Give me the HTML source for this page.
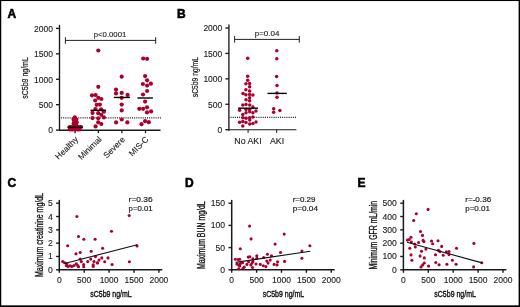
<!DOCTYPE html>
<html><head><meta charset="utf-8"><style>
html,body{margin:0;padding:0;background:#fff;}
body{width:520px;height:307px;overflow:hidden;}
svg{display:block;}
svg text{filter:grayscale(1);}
svg text{font-family:"Liberation Sans", sans-serif;}
</style></head><body>
<svg width="520" height="307" viewBox="0 0 520 307">
<rect x="0" y="0" width="520" height="307" fill="#fff"/>
<text x="7.4" y="17.6" font-size="12" font-weight="bold" fill="#000" stroke="#000" stroke-width="0.55">A</text>
<text x="176.9" y="17.6" font-size="12" font-weight="bold" fill="#000" stroke="#000" stroke-width="0.55">B</text>
<text x="7.6" y="186.6" font-size="12" font-weight="bold" fill="#000" stroke="#000" stroke-width="0.55">C</text>
<text x="184.9" y="186.7" font-size="12" font-weight="bold" fill="#000" stroke="#000" stroke-width="0.55">D</text>
<text x="357.5" y="186.6" font-size="12" font-weight="bold" fill="#000" stroke="#000" stroke-width="0.55">E</text>
<line x1="59.5" y1="25.4" x2="59.5" y2="130.6" stroke="#1a1a1a" stroke-width="1.35" stroke-linecap="round"/>
<line x1="56.0" y1="130.1" x2="59.5" y2="130.1" stroke="#1a1a1a" stroke-width="1.35"/>
<text x="52.9" y="133.4" font-size="8.5" text-anchor="end" fill="#1a1a1a" stroke="#222" stroke-width="0.12">0</text>
<line x1="56.0" y1="104.675" x2="59.5" y2="104.675" stroke="#1a1a1a" stroke-width="1.35"/>
<text x="52.9" y="107.975" font-size="8.5" text-anchor="end" fill="#1a1a1a" stroke="#222" stroke-width="0.12">500</text>
<line x1="56.0" y1="79.25" x2="59.5" y2="79.25" stroke="#1a1a1a" stroke-width="1.35"/>
<text x="52.9" y="82.55" font-size="8.5" text-anchor="end" fill="#1a1a1a" stroke="#222" stroke-width="0.12">1000</text>
<line x1="56.0" y1="53.825" x2="59.5" y2="53.825" stroke="#1a1a1a" stroke-width="1.35"/>
<text x="52.9" y="57.125" font-size="8.5" text-anchor="end" fill="#1a1a1a" stroke="#222" stroke-width="0.12">1500</text>
<line x1="56.0" y1="28.400000000000006" x2="59.5" y2="28.400000000000006" stroke="#1a1a1a" stroke-width="1.35"/>
<text x="52.9" y="31.700000000000006" font-size="8.5" text-anchor="end" fill="#1a1a1a" stroke="#222" stroke-width="0.12">2000</text>
<line x1="59.5" y1="130.2" x2="160.5" y2="130.2" stroke="#1a1a1a" stroke-width="1.5"/>
<line x1="75.1" y1="130.2" x2="75.1" y2="133.2" stroke="#1a1a1a" stroke-width="1.3"/>
<line x1="98.4" y1="130.2" x2="98.4" y2="133.2" stroke="#1a1a1a" stroke-width="1.3"/>
<line x1="121.9" y1="130.2" x2="121.9" y2="133.2" stroke="#1a1a1a" stroke-width="1.3"/>
<line x1="145.5" y1="130.2" x2="145.5" y2="133.2" stroke="#1a1a1a" stroke-width="1.3"/>
<line x1="61" y1="117.9" x2="161.4" y2="117.9" stroke="#222" stroke-width="1.3" stroke-dasharray="1.05 1.1"/>
<line x1="65.4" y1="40.4" x2="155.7" y2="40.4" stroke="#222" stroke-width="1.0"/>
<line x1="65.4" y1="37.2" x2="65.4" y2="43.8" stroke="#222" stroke-width="1.0"/>
<line x1="155.7" y1="37.2" x2="155.7" y2="43.8" stroke="#222" stroke-width="1.0"/>
<text x="110" y="37.0" font-size="7.9" text-anchor="middle" textLength="32.5" lengthAdjust="spacingAndGlyphs" fill="#1a1a1a" stroke="#222" stroke-width="0.12">p&lt;0.0001</text>
<text transform="translate(28.0,98.7) rotate(-90)" font-size="9.5" textLength="41.5" lengthAdjust="spacingAndGlyphs" fill="#1a1a1a" stroke="#111" stroke-width="0.2">sC5b9 ng/mL</text>
<text transform="translate(78.69999999999999,139.9) rotate(-45)" font-size="8.4" text-anchor="end" fill="#1a1a1a" stroke="#222" stroke-width="0.12">Healthy</text>
<text transform="translate(102.0,139.9) rotate(-45)" font-size="8.4" text-anchor="end" fill="#1a1a1a" stroke="#222" stroke-width="0.12">Minimal</text>
<text transform="translate(125.5,139.9) rotate(-45)" font-size="8.4" text-anchor="end" fill="#1a1a1a" stroke="#222" stroke-width="0.12">Severe</text>
<text transform="translate(149.1,139.9) rotate(-45)" font-size="8.4" text-anchor="end" fill="#1a1a1a" stroke="#222" stroke-width="0.12">MIS-C</text>
<g fill="#ab002c">
<circle cx="74.8" cy="117.3" r="2.1"/>
<circle cx="73.6" cy="119.4" r="2.1"/>
<circle cx="76.2" cy="119.6" r="2.1"/>
<circle cx="74.2" cy="121.6" r="2.1"/>
<circle cx="76.7" cy="122.2" r="2.1"/>
<circle cx="73.6" cy="123.8" r="2.1"/>
<circle cx="76.1" cy="124.4" r="2.1"/>
<circle cx="74.8" cy="125.2" r="2.1"/>
<circle cx="69.8" cy="127.0" r="2.1"/>
<circle cx="71.8" cy="127.0" r="2.1"/>
<circle cx="73.8" cy="127.0" r="2.1"/>
<circle cx="75.8" cy="127.0" r="2.1"/>
<circle cx="77.8" cy="127.0" r="2.1"/>
<circle cx="79.8" cy="127.0" r="2.1"/>
<circle cx="81.0" cy="127.0" r="2.1"/>
<circle cx="69.7" cy="129.4" r="2.1"/>
<circle cx="71.7" cy="129.4" r="2.1"/>
<circle cx="73.7" cy="129.4" r="2.1"/>
<circle cx="75.7" cy="129.4" r="2.1"/>
<circle cx="77.7" cy="129.4" r="2.1"/>
<circle cx="79.5" cy="129.4" r="2.1"/>
<circle cx="98.3" cy="50.5" r="2.1"/>
<circle cx="98.3" cy="86.8" r="2.1"/>
<circle cx="92.0" cy="95.3" r="2.1"/>
<circle cx="95.6" cy="95.0" r="2.1"/>
<circle cx="98.3" cy="97.8" r="2.1"/>
<circle cx="101.4" cy="99.0" r="2.1"/>
<circle cx="95.2" cy="100.5" r="2.1"/>
<circle cx="96.7" cy="104.8" r="2.1"/>
<circle cx="99.9" cy="104.6" r="2.1"/>
<circle cx="95.4" cy="109.1" r="2.1"/>
<circle cx="101.1" cy="109.3" r="2.1"/>
<circle cx="92.5" cy="112.9" r="2.1"/>
<circle cx="98.2" cy="113.2" r="2.1"/>
<circle cx="103.9" cy="111.7" r="2.1"/>
<circle cx="101.3" cy="114.8" r="2.1"/>
<circle cx="92.5" cy="118.1" r="2.1"/>
<circle cx="98.2" cy="118.3" r="2.1"/>
<circle cx="103.9" cy="117.4" r="2.1"/>
<circle cx="98.2" cy="122.3" r="2.1"/>
<circle cx="101.3" cy="124" r="2.1"/>
<circle cx="95.6" cy="126.4" r="2.1"/>
<circle cx="121.7" cy="76.7" r="2.1"/>
<circle cx="116.0" cy="89.6" r="2.1"/>
<circle cx="116.0" cy="93.4" r="2.1"/>
<circle cx="121.7" cy="92.9" r="2.1"/>
<circle cx="127.6" cy="94.9" r="2.1"/>
<circle cx="121.7" cy="97.8" r="2.1"/>
<circle cx="121.7" cy="104.6" r="2.1"/>
<circle cx="121.7" cy="110.4" r="2.1"/>
<circle cx="121.7" cy="119.5" r="2.1"/>
<circle cx="116.1" cy="122.4" r="2.1"/>
<circle cx="127.3" cy="122.4" r="2.1"/>
<circle cx="143.2" cy="58.5" r="2.1"/>
<circle cx="147.1" cy="58.8" r="2.1"/>
<circle cx="145.1" cy="76.1" r="2.1"/>
<circle cx="147.1" cy="80.3" r="2.1"/>
<circle cx="142.9" cy="84.0" r="2.1"/>
<circle cx="147.1" cy="85.6" r="2.1"/>
<circle cx="150.9" cy="83.7" r="2.1"/>
<circle cx="147.1" cy="91.0" r="2.1"/>
<circle cx="143.0" cy="94.5" r="2.1"/>
<circle cx="145.1" cy="101.6" r="2.1"/>
<circle cx="139.3" cy="108.8" r="2.1"/>
<circle cx="143.1" cy="108.8" r="2.1"/>
<circle cx="147" cy="107.3" r="2.1"/>
<circle cx="147" cy="112.4" r="2.1"/>
<circle cx="151.1" cy="111.4" r="2.1"/>
<circle cx="141.5" cy="124.2" r="2.1"/>
<circle cx="145.1" cy="121.2" r="2.1"/>
<circle cx="148.8" cy="122.2" r="2.1"/>
</g>
<line x1="67.3" y1="127.2" x2="82.7" y2="127.2" stroke="#000" stroke-width="1.4"/>
<line x1="90.5" y1="110.3" x2="106.0" y2="110.3" stroke="#000" stroke-width="1.4"/>
<line x1="113.9" y1="97.45" x2="130.0" y2="97.45" stroke="#000" stroke-width="1.4"/>
<line x1="137.4" y1="98.0" x2="152.9" y2="98.0" stroke="#000" stroke-width="1.4"/>
<line x1="228.9" y1="25.0" x2="228.9" y2="130.2" stroke="#1a1a1a" stroke-width="1.35" stroke-linecap="round"/>
<line x1="225.4" y1="129.7" x2="228.9" y2="129.7" stroke="#1a1a1a" stroke-width="1.35"/>
<text x="222.3" y="133.0" font-size="8.5" text-anchor="end" fill="#1a1a1a" stroke="#222" stroke-width="0.12">0</text>
<line x1="225.4" y1="104.27499999999999" x2="228.9" y2="104.27499999999999" stroke="#1a1a1a" stroke-width="1.35"/>
<text x="222.3" y="107.57499999999999" font-size="8.5" text-anchor="end" fill="#1a1a1a" stroke="#222" stroke-width="0.12">500</text>
<line x1="225.4" y1="78.85" x2="228.9" y2="78.85" stroke="#1a1a1a" stroke-width="1.35"/>
<text x="222.3" y="82.14999999999999" font-size="8.5" text-anchor="end" fill="#1a1a1a" stroke="#222" stroke-width="0.12">1000</text>
<line x1="225.4" y1="53.425" x2="228.9" y2="53.425" stroke="#1a1a1a" stroke-width="1.35"/>
<text x="222.3" y="56.724999999999994" font-size="8.5" text-anchor="end" fill="#1a1a1a" stroke="#222" stroke-width="0.12">1500</text>
<line x1="225.4" y1="28.0" x2="228.9" y2="28.0" stroke="#1a1a1a" stroke-width="1.35"/>
<text x="222.3" y="31.3" font-size="8.5" text-anchor="end" fill="#1a1a1a" stroke="#222" stroke-width="0.12">2000</text>
<line x1="228.9" y1="129.7" x2="296.4" y2="129.7" stroke="#1a1a1a" stroke-width="1.1"/>
<line x1="248.1" y1="129.7" x2="248.1" y2="132.9" stroke="#1a1a1a" stroke-width="1.0"/>
<line x1="276.7" y1="129.7" x2="276.7" y2="132.9" stroke="#1a1a1a" stroke-width="1.0"/>
<line x1="230.5" y1="117.3" x2="296.6" y2="117.3" stroke="#222" stroke-width="1.3" stroke-dasharray="1.05 1.1"/>
<line x1="234.6" y1="39.4" x2="299.3" y2="39.4" stroke="#222" stroke-width="1.0"/>
<line x1="234.6" y1="36.0" x2="234.6" y2="42.6" stroke="#222" stroke-width="1.0"/>
<line x1="299.3" y1="36.0" x2="299.3" y2="42.6" stroke="#222" stroke-width="1.0"/>
<text x="267.1" y="36.2" font-size="8" text-anchor="middle" textLength="24.8" lengthAdjust="spacingAndGlyphs" fill="#1a1a1a" stroke="#222" stroke-width="0.12">p=0.04</text>
<text transform="translate(198.0,97.2) rotate(-90)" font-size="9.5" textLength="40.2" lengthAdjust="spacingAndGlyphs" fill="#1a1a1a" stroke="#111" stroke-width="0.2">sC5b9 ng/mL</text>
<text x="248.0" y="143.6" font-size="8.8" text-anchor="middle" fill="#1a1a1a" stroke="#222" stroke-width="0.12">No AKI</text>
<text x="277.0" y="143.6" font-size="8.8" text-anchor="middle" fill="#1a1a1a" stroke="#222" stroke-width="0.12">AKI</text>
<g fill="#ab002c">
<circle cx="247.7" cy="58.2" r="1.75"/>
<circle cx="247.7" cy="76.2" r="1.75"/>
<circle cx="247.7" cy="80.2" r="1.75"/>
<circle cx="245.9" cy="83.8" r="1.75"/>
<circle cx="249.6" cy="83.5" r="1.75"/>
<circle cx="249.6" cy="86.8" r="1.75"/>
<circle cx="245.9" cy="89.7" r="1.75"/>
<circle cx="249.6" cy="90.9" r="1.75"/>
<circle cx="243" cy="93.4" r="1.75"/>
<circle cx="245.9" cy="94.8" r="1.75"/>
<circle cx="249.6" cy="94.5" r="1.75"/>
<circle cx="252.9" cy="95.0" r="1.75"/>
<circle cx="249.6" cy="97.7" r="1.75"/>
<circle cx="246" cy="99.8" r="1.75"/>
<circle cx="249.6" cy="100.8" r="1.75"/>
<circle cx="242.8" cy="104.9" r="1.75"/>
<circle cx="246" cy="104.6" r="1.75"/>
<circle cx="249.7" cy="104.9" r="1.75"/>
<circle cx="252.9" cy="107" r="1.75"/>
<circle cx="239.6" cy="110.2" r="1.75"/>
<circle cx="246" cy="109.5" r="1.75"/>
<circle cx="249.7" cy="109.5" r="1.75"/>
<circle cx="256" cy="110.9" r="1.75"/>
<circle cx="246" cy="112.7" r="1.75"/>
<circle cx="249.7" cy="111.7" r="1.75"/>
<circle cx="252.9" cy="112.7" r="1.75"/>
<circle cx="242.8" cy="114.6" r="1.75"/>
<circle cx="242.8" cy="117.8" r="1.75"/>
<circle cx="246" cy="118.3" r="1.75"/>
<circle cx="249.7" cy="117.8" r="1.75"/>
<circle cx="252.9" cy="117.1" r="1.75"/>
<circle cx="249.7" cy="120" r="1.75"/>
<circle cx="239.6" cy="122.2" r="1.75"/>
<circle cx="242.8" cy="121.5" r="1.75"/>
<circle cx="246" cy="122.4" r="1.75"/>
<circle cx="249.7" cy="123.9" r="1.75"/>
<circle cx="252.9" cy="123.6" r="1.75"/>
<circle cx="256" cy="122" r="1.75"/>
<circle cx="242.8" cy="126.1" r="1.75"/>
<circle cx="276.8" cy="50.7" r="1.75"/>
<circle cx="276.8" cy="58.8" r="1.75"/>
<circle cx="276.6" cy="76.4" r="1.75"/>
<circle cx="277" cy="85.6" r="1.75"/>
<circle cx="277" cy="93" r="1.75"/>
<circle cx="277" cy="97.3" r="1.75"/>
<circle cx="273.7" cy="108.7" r="1.75"/>
<circle cx="273.7" cy="112.2" r="1.75"/>
<circle cx="279.9" cy="110.4" r="1.75"/>
</g>
<line x1="238.1" y1="108.2" x2="258.0" y2="108.2" stroke="#000" stroke-width="1.4"/>
<line x1="267.5" y1="93.4" x2="286.8" y2="93.4" stroke="#000" stroke-width="1.4"/>
<line x1="59.3" y1="200.6" x2="59.3" y2="270.3" stroke="#1a1a1a" stroke-width="1.5" stroke-linecap="round"/>
<line x1="56.099999999999994" y1="269.8" x2="59.3" y2="269.8" stroke="#1a1a1a" stroke-width="1.4"/>
<text x="52.699999999999996" y="272.8" font-size="8.6" text-anchor="end" fill="#1a1a1a" stroke="#222" stroke-width="0.12">0</text>
<line x1="56.099999999999994" y1="256.48" x2="59.3" y2="256.48" stroke="#1a1a1a" stroke-width="1.4"/>
<text x="52.699999999999996" y="259.48" font-size="8.6" text-anchor="end" fill="#1a1a1a" stroke="#222" stroke-width="0.12">1</text>
<line x1="56.099999999999994" y1="243.16" x2="59.3" y2="243.16" stroke="#1a1a1a" stroke-width="1.4"/>
<text x="52.699999999999996" y="246.16" font-size="8.6" text-anchor="end" fill="#1a1a1a" stroke="#222" stroke-width="0.12">2</text>
<line x1="56.099999999999994" y1="229.84" x2="59.3" y2="229.84" stroke="#1a1a1a" stroke-width="1.4"/>
<text x="52.699999999999996" y="232.84" font-size="8.6" text-anchor="end" fill="#1a1a1a" stroke="#222" stroke-width="0.12">3</text>
<line x1="56.099999999999994" y1="216.51999999999998" x2="59.3" y2="216.51999999999998" stroke="#1a1a1a" stroke-width="1.4"/>
<text x="52.699999999999996" y="219.51999999999998" font-size="8.6" text-anchor="end" fill="#1a1a1a" stroke="#222" stroke-width="0.12">4</text>
<line x1="56.099999999999994" y1="203.2" x2="59.3" y2="203.2" stroke="#1a1a1a" stroke-width="1.4"/>
<text x="52.699999999999996" y="206.2" font-size="8.6" text-anchor="end" fill="#1a1a1a" stroke="#222" stroke-width="0.12">5</text>
<line x1="59.3" y1="269.8" x2="162.3" y2="269.8" stroke="#1a1a1a" stroke-width="1.5"/>
<line x1="59.3" y1="269.8" x2="59.3" y2="272.8" stroke="#1a1a1a" stroke-width="1.4"/>
<text x="59.3" y="283.0" font-size="8.5" text-anchor="middle" fill="#1a1a1a" stroke="#222" stroke-width="0.12">0</text>
<line x1="84.19999999999999" y1="269.8" x2="84.19999999999999" y2="272.8" stroke="#1a1a1a" stroke-width="1.4"/>
<text x="84.19999999999999" y="283.0" font-size="8.5" text-anchor="middle" fill="#1a1a1a" stroke="#222" stroke-width="0.12">500</text>
<line x1="109.1" y1="269.8" x2="109.1" y2="272.8" stroke="#1a1a1a" stroke-width="1.4"/>
<text x="109.1" y="283.0" font-size="8.5" text-anchor="middle" fill="#1a1a1a" stroke="#222" stroke-width="0.12">1000</text>
<line x1="134.0" y1="269.8" x2="134.0" y2="272.8" stroke="#1a1a1a" stroke-width="1.4"/>
<text x="134.0" y="283.0" font-size="8.5" text-anchor="middle" fill="#1a1a1a" stroke="#222" stroke-width="0.12">1500</text>
<line x1="158.89999999999998" y1="269.8" x2="158.89999999999998" y2="272.8" stroke="#1a1a1a" stroke-width="1.4"/>
<text x="158.89999999999998" y="283.0" font-size="8.5" text-anchor="middle" fill="#1a1a1a" stroke="#222" stroke-width="0.12">2000</text>
<text x="111.0" y="297.2" font-size="9.8" text-anchor="middle" textLength="41.5" lengthAdjust="spacingAndGlyphs" fill="#1a1a1a" stroke="#111" stroke-width="0.42">sC5b9 ng/mL</text>
<text transform="translate(42.6,277.0) rotate(-90)" font-size="10.2" textLength="84.0" lengthAdjust="spacingAndGlyphs" fill="#1a1a1a" stroke="#111" stroke-width="0.35">Maximum creatinine mg/dL</text>
<text x="128.6" y="201.5" font-size="8" textLength="24" lengthAdjust="spacingAndGlyphs" fill="#1a1a1a" stroke="#222" stroke-width="0.2">r=0.36</text>
<text x="128.6" y="210.6" font-size="8" textLength="24" lengthAdjust="spacingAndGlyphs" fill="#1a1a1a" stroke="#222" stroke-width="0.2">p=0.01</text>
<g fill="#ab002c">
<circle cx="76.9" cy="216.5" r="1.55"/>
<circle cx="129.2" cy="215.5" r="1.55"/>
<circle cx="111.5" cy="231.2" r="1.55"/>
<circle cx="78.5" cy="236.5" r="1.55"/>
<circle cx="83.8" cy="239.2" r="1.55"/>
<circle cx="95.1" cy="239.2" r="1.55"/>
<circle cx="67.7" cy="245.8" r="1.55"/>
<circle cx="102.6" cy="248.2" r="1.55"/>
<circle cx="137" cy="245.9" r="1.55"/>
<circle cx="76" cy="253.9" r="1.55"/>
<circle cx="80.2" cy="252.5" r="1.55"/>
<circle cx="91.2" cy="251.3" r="1.55"/>
<circle cx="62.7" cy="261.6" r="1.55"/>
<circle cx="64.6" cy="262.7" r="1.55"/>
<circle cx="80.2" cy="259.1" r="1.55"/>
<circle cx="81.3" cy="261.6" r="1.55"/>
<circle cx="90.7" cy="259.1" r="1.55"/>
<circle cx="87.7" cy="261.6" r="1.55"/>
<circle cx="95.5" cy="256.6" r="1.55"/>
<circle cx="94" cy="261.6" r="1.55"/>
<circle cx="97.3" cy="262.7" r="1.55"/>
<circle cx="66.3" cy="265.5" r="1.55"/>
<circle cx="68" cy="266.6" r="1.55"/>
<circle cx="70" cy="265.7" r="1.55"/>
<circle cx="71.9" cy="266.4" r="1.55"/>
<circle cx="74.1" cy="265.5" r="1.55"/>
<circle cx="76.3" cy="263.8" r="1.55"/>
<circle cx="77.7" cy="265.5" r="1.55"/>
<circle cx="78.5" cy="266.8" r="1.55"/>
<circle cx="83.7" cy="264.6" r="1.55"/>
<circle cx="83.7" cy="266.8" r="1.55"/>
<circle cx="93.2" cy="264.9" r="1.55"/>
<circle cx="93.2" cy="266.4" r="1.55"/>
<circle cx="66.9" cy="263.8" r="1.55"/>
<circle cx="99" cy="260.1" r="1.55"/>
<circle cx="101.8" cy="257.9" r="1.55"/>
<circle cx="108" cy="257.9" r="1.55"/>
<circle cx="97.5" cy="263" r="1.55"/>
<circle cx="104.7" cy="261.7" r="1.55"/>
<circle cx="112.1" cy="264.5" r="1.55"/>
<circle cx="129.4" cy="261.7" r="1.55"/>
</g>
<line x1="64.5" y1="263.5" x2="137.2" y2="244.8" stroke="#111" stroke-width="1.1"/>
<line x1="231.7" y1="200.6" x2="231.7" y2="270.3" stroke="#1a1a1a" stroke-width="1.5" stroke-linecap="round"/>
<line x1="228.5" y1="269.8" x2="231.7" y2="269.8" stroke="#1a1a1a" stroke-width="1.4"/>
<text x="225.1" y="272.8" font-size="8.6" text-anchor="end" fill="#1a1a1a" stroke="#222" stroke-width="0.12">0</text>
<line x1="228.5" y1="247.6" x2="231.7" y2="247.6" stroke="#1a1a1a" stroke-width="1.4"/>
<text x="225.1" y="250.6" font-size="8.6" text-anchor="end" fill="#1a1a1a" stroke="#222" stroke-width="0.12">50</text>
<line x1="228.5" y1="225.4" x2="231.7" y2="225.4" stroke="#1a1a1a" stroke-width="1.4"/>
<text x="225.1" y="228.4" font-size="8.6" text-anchor="end" fill="#1a1a1a" stroke="#222" stroke-width="0.12">100</text>
<line x1="228.5" y1="203.2" x2="231.7" y2="203.2" stroke="#1a1a1a" stroke-width="1.4"/>
<text x="225.1" y="206.2" font-size="8.6" text-anchor="end" fill="#1a1a1a" stroke="#222" stroke-width="0.12">150</text>
<line x1="231.7" y1="269.8" x2="334.7" y2="269.8" stroke="#1a1a1a" stroke-width="1.5"/>
<line x1="231.7" y1="269.8" x2="231.7" y2="272.8" stroke="#1a1a1a" stroke-width="1.4"/>
<text x="231.7" y="283.0" font-size="8.5" text-anchor="middle" fill="#1a1a1a" stroke="#222" stroke-width="0.12">0</text>
<line x1="256.59999999999997" y1="269.8" x2="256.59999999999997" y2="272.8" stroke="#1a1a1a" stroke-width="1.4"/>
<text x="256.59999999999997" y="283.0" font-size="8.5" text-anchor="middle" fill="#1a1a1a" stroke="#222" stroke-width="0.12">500</text>
<line x1="281.5" y1="269.8" x2="281.5" y2="272.8" stroke="#1a1a1a" stroke-width="1.4"/>
<text x="281.5" y="283.0" font-size="8.5" text-anchor="middle" fill="#1a1a1a" stroke="#222" stroke-width="0.12">1000</text>
<line x1="306.4" y1="269.8" x2="306.4" y2="272.8" stroke="#1a1a1a" stroke-width="1.4"/>
<text x="306.4" y="283.0" font-size="8.5" text-anchor="middle" fill="#1a1a1a" stroke="#222" stroke-width="0.12">1500</text>
<line x1="331.29999999999995" y1="269.8" x2="331.29999999999995" y2="272.8" stroke="#1a1a1a" stroke-width="1.4"/>
<text x="331.29999999999995" y="283.0" font-size="8.5" text-anchor="middle" fill="#1a1a1a" stroke="#222" stroke-width="0.12">2000</text>
<text x="283.4" y="297.2" font-size="9.8" text-anchor="middle" textLength="41.5" lengthAdjust="spacingAndGlyphs" fill="#1a1a1a" stroke="#111" stroke-width="0.42">sC5b9 ng/mL</text>
<text transform="translate(205.0,269.1) rotate(-90)" font-size="10.2" textLength="67.8" lengthAdjust="spacingAndGlyphs" fill="#1a1a1a" stroke="#111" stroke-width="0.35">Maximum BUN mg/dL</text>
<text x="292.7" y="201.5" font-size="8" textLength="22.7" lengthAdjust="spacingAndGlyphs" fill="#1a1a1a" stroke="#222" stroke-width="0.2">r=0.29</text>
<text x="292.7" y="210.6" font-size="8" textLength="25.3" lengthAdjust="spacingAndGlyphs" fill="#1a1a1a" stroke="#222" stroke-width="0.2">p=0.04</text>
<g fill="#ab002c">
<circle cx="249.6" cy="226.1" r="1.55"/>
<circle cx="284.2" cy="234.1" r="1.55"/>
<circle cx="251.1" cy="238.9" r="1.55"/>
<circle cx="275.1" cy="244.1" r="1.55"/>
<circle cx="240.3" cy="248.7" r="1.55"/>
<circle cx="267.4" cy="254.3" r="1.55"/>
<circle cx="280.5" cy="252.5" r="1.55"/>
<circle cx="309.9" cy="245.8" r="1.55"/>
<circle cx="301.9" cy="251" r="1.55"/>
<circle cx="301.9" cy="258.2" r="1.55"/>
<circle cx="271.5" cy="255.8" r="1.55"/>
<circle cx="235.4" cy="259.2" r="1.55"/>
<circle cx="238.2" cy="259.5" r="1.55"/>
<circle cx="248.3" cy="257.1" r="1.55"/>
<circle cx="249.9" cy="256.7" r="1.55"/>
<circle cx="252.9" cy="258.8" r="1.55"/>
<circle cx="256.8" cy="255.8" r="1.55"/>
<circle cx="256.8" cy="258.4" r="1.55"/>
<circle cx="263.7" cy="257.5" r="1.55"/>
<circle cx="236.9" cy="264" r="1.55"/>
<circle cx="238.7" cy="264.9" r="1.55"/>
<circle cx="240.4" cy="263.6" r="1.55"/>
<circle cx="242.5" cy="262.7" r="1.55"/>
<circle cx="239.7" cy="266" r="1.55"/>
<circle cx="238.7" cy="268.8" r="1.55"/>
<circle cx="243" cy="268.3" r="1.55"/>
<circle cx="244.3" cy="267" r="1.55"/>
<circle cx="246.9" cy="264.4" r="1.55"/>
<circle cx="248.6" cy="261.8" r="1.55"/>
<circle cx="250.8" cy="264.9" r="1.55"/>
<circle cx="252.1" cy="263.1" r="1.55"/>
<circle cx="252.9" cy="261.4" r="1.55"/>
<circle cx="252.5" cy="267.5" r="1.55"/>
<circle cx="256" cy="264" r="1.55"/>
<circle cx="260.3" cy="264.4" r="1.55"/>
<circle cx="263.3" cy="265.7" r="1.55"/>
<circle cx="265.9" cy="266.6" r="1.55"/>
<circle cx="266.8" cy="261" r="1.55"/>
<circle cx="268.1" cy="263.1" r="1.55"/>
<circle cx="270.2" cy="260.1" r="1.55"/>
<circle cx="274.1" cy="264.4" r="1.55"/>
<circle cx="277.6" cy="261.7" r="1.55"/>
<circle cx="277.1" cy="264.9" r="1.55"/>
<circle cx="284.6" cy="261.4" r="1.55"/>
<circle cx="239.7" cy="259.2" r="1.55"/>
</g>
<line x1="235.6" y1="262.4" x2="310.2" y2="251.2" stroke="#111" stroke-width="1.1"/>
<line x1="403.4" y1="200.6" x2="403.4" y2="270.3" stroke="#1a1a1a" stroke-width="1.5" stroke-linecap="round"/>
<line x1="400.2" y1="269.8" x2="403.4" y2="269.8" stroke="#1a1a1a" stroke-width="1.4"/>
<text x="396.79999999999995" y="272.8" font-size="8.6" text-anchor="end" fill="#1a1a1a" stroke="#222" stroke-width="0.12">0</text>
<line x1="400.2" y1="256.48" x2="403.4" y2="256.48" stroke="#1a1a1a" stroke-width="1.4"/>
<text x="396.79999999999995" y="259.48" font-size="8.6" text-anchor="end" fill="#1a1a1a" stroke="#222" stroke-width="0.12">100</text>
<line x1="400.2" y1="243.16" x2="403.4" y2="243.16" stroke="#1a1a1a" stroke-width="1.4"/>
<text x="396.79999999999995" y="246.16" font-size="8.6" text-anchor="end" fill="#1a1a1a" stroke="#222" stroke-width="0.12">200</text>
<line x1="400.2" y1="229.84" x2="403.4" y2="229.84" stroke="#1a1a1a" stroke-width="1.4"/>
<text x="396.79999999999995" y="232.84" font-size="8.6" text-anchor="end" fill="#1a1a1a" stroke="#222" stroke-width="0.12">300</text>
<line x1="400.2" y1="216.51999999999998" x2="403.4" y2="216.51999999999998" stroke="#1a1a1a" stroke-width="1.4"/>
<text x="396.79999999999995" y="219.51999999999998" font-size="8.6" text-anchor="end" fill="#1a1a1a" stroke="#222" stroke-width="0.12">400</text>
<line x1="400.2" y1="203.2" x2="403.4" y2="203.2" stroke="#1a1a1a" stroke-width="1.4"/>
<text x="396.79999999999995" y="206.2" font-size="8.6" text-anchor="end" fill="#1a1a1a" stroke="#222" stroke-width="0.12">500</text>
<line x1="403.4" y1="269.8" x2="506.4" y2="269.8" stroke="#1a1a1a" stroke-width="1.5"/>
<line x1="403.4" y1="269.8" x2="403.4" y2="272.8" stroke="#1a1a1a" stroke-width="1.4"/>
<text x="403.4" y="283.0" font-size="8.5" text-anchor="middle" fill="#1a1a1a" stroke="#222" stroke-width="0.12">0</text>
<line x1="428.29999999999995" y1="269.8" x2="428.29999999999995" y2="272.8" stroke="#1a1a1a" stroke-width="1.4"/>
<text x="428.29999999999995" y="283.0" font-size="8.5" text-anchor="middle" fill="#1a1a1a" stroke="#222" stroke-width="0.12">500</text>
<line x1="453.2" y1="269.8" x2="453.2" y2="272.8" stroke="#1a1a1a" stroke-width="1.4"/>
<text x="453.2" y="283.0" font-size="8.5" text-anchor="middle" fill="#1a1a1a" stroke="#222" stroke-width="0.12">1000</text>
<line x1="478.09999999999997" y1="269.8" x2="478.09999999999997" y2="272.8" stroke="#1a1a1a" stroke-width="1.4"/>
<text x="478.09999999999997" y="283.0" font-size="8.5" text-anchor="middle" fill="#1a1a1a" stroke="#222" stroke-width="0.12">1500</text>
<line x1="503.0" y1="269.8" x2="503.0" y2="272.8" stroke="#1a1a1a" stroke-width="1.4"/>
<text x="503.0" y="283.0" font-size="8.5" text-anchor="middle" fill="#1a1a1a" stroke="#222" stroke-width="0.12">2000</text>
<text x="455.09999999999997" y="297.2" font-size="9.8" text-anchor="middle" textLength="41.5" lengthAdjust="spacingAndGlyphs" fill="#1a1a1a" stroke="#111" stroke-width="0.42">sC5b9 ng/mL</text>
<text transform="translate(377.2,269.6) rotate(-90)" font-size="10.2" textLength="68.8" lengthAdjust="spacingAndGlyphs" fill="#1a1a1a" stroke="#111" stroke-width="0.35">Minimum GFR mL/min</text>
<text x="465.2" y="201.5" font-size="8" textLength="26" lengthAdjust="spacingAndGlyphs" fill="#1a1a1a" stroke="#222" stroke-width="0.2">r=-0.36</text>
<text x="465.2" y="210.6" font-size="8" textLength="24.8" lengthAdjust="spacingAndGlyphs" fill="#1a1a1a" stroke="#222" stroke-width="0.2">p=0.01</text>
<g fill="#ab002c">
<circle cx="428.1" cy="209.4" r="1.55"/>
<circle cx="416.3" cy="213.7" r="1.55"/>
<circle cx="413.7" cy="220.5" r="1.55"/>
<circle cx="420.5" cy="231.5" r="1.55"/>
<circle cx="422.5" cy="235.4" r="1.55"/>
<circle cx="411" cy="237.2" r="1.55"/>
<circle cx="407.4" cy="240.1" r="1.55"/>
<circle cx="409.2" cy="239.6" r="1.55"/>
<circle cx="411.4" cy="242" r="1.55"/>
<circle cx="423.1" cy="240.4" r="1.55"/>
<circle cx="423.9" cy="241.6" r="1.55"/>
<circle cx="418.6" cy="242.5" r="1.55"/>
<circle cx="414.7" cy="244" r="1.55"/>
<circle cx="415.3" cy="247" r="1.55"/>
<circle cx="431.5" cy="241" r="1.55"/>
<circle cx="432.7" cy="243.7" r="1.55"/>
<circle cx="438" cy="240.8" r="1.55"/>
<circle cx="441.7" cy="246.4" r="1.55"/>
<circle cx="409.8" cy="248.3" r="1.55"/>
<circle cx="425.9" cy="249.1" r="1.55"/>
<circle cx="421.5" cy="251.3" r="1.55"/>
<circle cx="438.4" cy="250.3" r="1.55"/>
<circle cx="439.9" cy="251.6" r="1.55"/>
<circle cx="411" cy="254.9" r="1.55"/>
<circle cx="420.1" cy="256.1" r="1.55"/>
<circle cx="424.3" cy="257.9" r="1.55"/>
<circle cx="435.5" cy="254.7" r="1.55"/>
<circle cx="411.9" cy="260.3" r="1.55"/>
<circle cx="424.3" cy="263" r="1.55"/>
<circle cx="422.7" cy="264.9" r="1.55"/>
<circle cx="421" cy="266.9" r="1.55"/>
<circle cx="428.5" cy="266.1" r="1.55"/>
<circle cx="435.8" cy="262.5" r="1.55"/>
<circle cx="439.1" cy="264.7" r="1.55"/>
<circle cx="456.5" cy="248.2" r="1.55"/>
<circle cx="473.9" cy="243.4" r="1.55"/>
<circle cx="446.3" cy="251.9" r="1.55"/>
<circle cx="449" cy="251.6" r="1.55"/>
<circle cx="449" cy="254.6" r="1.55"/>
<circle cx="443.2" cy="255.3" r="1.55"/>
<circle cx="452.4" cy="260.3" r="1.55"/>
<circle cx="446.9" cy="264.2" r="1.55"/>
<circle cx="456.1" cy="264.2" r="1.55"/>
<circle cx="473.6" cy="266.9" r="1.55"/>
<circle cx="481.8" cy="262.8" r="1.55"/>
</g>
<line x1="407.0" y1="242.2" x2="482.0" y2="262.9" stroke="#111" stroke-width="1.1"/>
<rect x="0" y="0" width="520" height="1.05" fill="#000"/>
<rect x="0" y="0" width="1.25" height="307" fill="#000"/>
<rect x="518.6" y="0" width="1.4" height="307" fill="#000"/>
<rect x="0" y="305.35" width="520" height="1.65" fill="#000"/>
</svg>
</body></html>
